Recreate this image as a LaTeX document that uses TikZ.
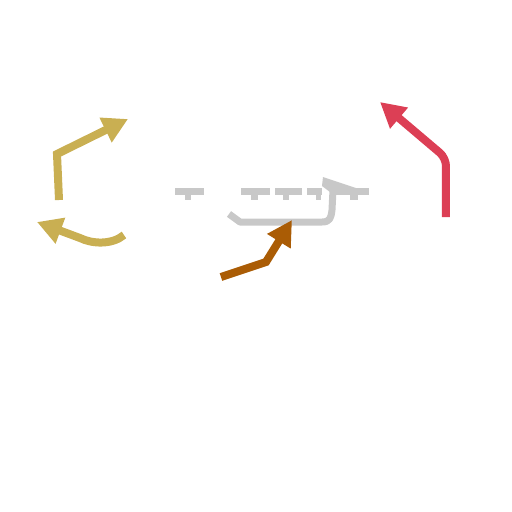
\documentclass[tikz,border=0pt]{standalone}
\usetikzlibrary{arrows.meta}
\definecolor{goldc}{HTML}{C9AF52}
\definecolor{redc}{HTML}{DC3F55}
\definecolor{brownc}{HTML}{AA5C05}
\definecolor{grayc}{HTML}{C8C8C8}
\tikzset{
  thickarrow/.style={line width=0.16cm, -{Triangle[length=0.5cm,width=0.52cm]}},
  grayblk/.style={fill=grayc, draw=none},
  grayline/.style={draw=grayc, line width=0.14cm, line join=round}
}
\begin{document}
\begin{tikzpicture}[x=0.02cm,y=-0.02cm]
\useasboundingbox (0,0) rectangle (512,512);
% gray T-shaped bars
\fill[grayblk] (175,188) rectangle (204,195);
\fill[grayblk] (185,195) rectangle (191,200);
\fill[grayblk] (241,188) rectangle (270,195);
\fill[grayblk] (251,195) rectangle (258,200);
\fill[grayblk] (275,188) rectangle (302,195);
\fill[grayblk] (283,195) rectangle (289,200);
\fill[grayblk] (307,188) rectangle (322,195);
\fill[grayblk] (316,195) rectangle (321,200);
\fill[grayblk] (335,188) rectangle (369,195);
\fill[grayblk] (350,195) rectangle (358,200);
% gray connector
\coordinate (g0) at (229,214);
\coordinate (g1) at (240,222);
\coordinate (g2) at (333,190);
\draw[grayline] (g0) -- (g1) -- (322,222) .. controls (330,222) and (331,218) .. (332,210) -- (g2);
\fill[grayblk] (323,177) -- (356,188) -- (356,192) -- (330,192) -- (322,186) -- cycle;
% gold arrows
\coordinate (a0) at (59,200);
\coordinate (a1) at (57,154);
\coordinate (a2) at (128,119);
\draw[goldc, thickarrow] (a0) -- (a1) -- (a2);
\coordinate (b0) at (124,235);
\coordinate (b1) at (80,238);
\coordinate (b2) at (37,222);
\draw[goldc, thickarrow] (b0) .. controls (112,245) and (92,244) .. (b1) -- (b2);
% brown arrow
\coordinate (c0) at (221,277);
\coordinate (c1) at (266,262);
\coordinate (c2) at (292,220);
\draw[brownc, thickarrow] (c0) -- (c1) -- (c2);
% red arrow
\coordinate (d0) at (446,217);
\coordinate (d1) at (446,158);
\coordinate (d2) at (380,102);
\draw[redc, thickarrow, rounded corners=0.16cm] (d0) -- (d1) -- (d2);
\end{tikzpicture}
\end{document}
